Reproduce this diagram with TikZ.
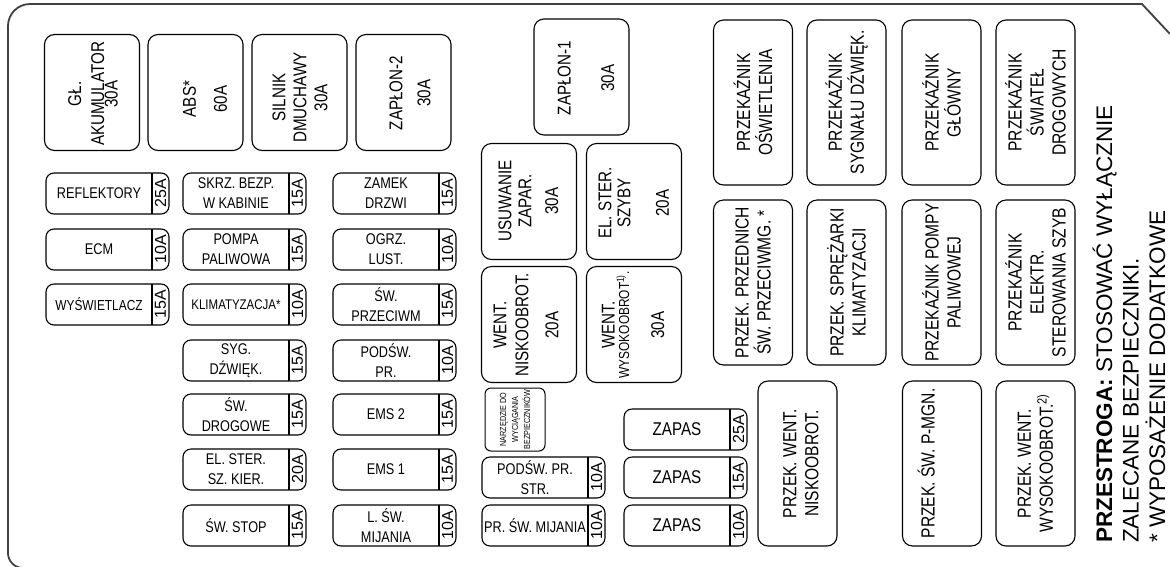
\documentclass[tikz,border=0pt]{standalone}
\usepackage{fontspec}
\setmainfont{Liberation Sans}
\newfontfamily\narrowfont{Liberation Sans}[FakeStretch=0.82]

\newcommand{\zapas}{{\fontsize{18.5}{22}\selectfont ZAPAS}}

\begin{document}
\begin{tikzpicture}[
  x=1pt, y=-1pt,
  border/.style={draw=black!75, line width=1.8pt},
  bigfuse/.style={draw, line width=1.1pt, rounded corners=10pt, minimum width=95pt, minimum height=116pt, outer sep=0pt, inner sep=0pt},
  bigtxt/.style={rotate=90, align=center, inner sep=0pt, font=\narrowfont\fontsize{18.5}{22}\selectfont},
  fuse/.style={draw, line width=1.1pt, rounded corners=8pt, minimum width=123pt, minimum height=41pt, outer sep=0pt, inner sep=0pt},
  fuselbl/.style={align=center, inner sep=0pt, font=\narrowfont\fontsize{15.5}{20}\selectfont},
  amplbl/.style={rotate=90, inner sep=0pt, font=\fontsize{16}{16}\selectfont},
  relay/.style={draw, line width=1.1pt, rounded corners=10pt, rotate=90, minimum width=165pt, minimum height=79pt, align=center, inner sep=0pt, font=\narrowfont\fontsize{19}{22}\selectfont},
  tool/.style={draw, line width=1pt, rounded corners=6pt, rotate=90, minimum width=63pt, minimum height=60pt, align=center, inner sep=0pt, font=\narrowfont\fontsize{8.8}{12}\selectfont},
  warn/.style={rotate=90, anchor=base west, inner sep=0pt, font=\fontsize{22.5}{27}\selectfont},
]
\useasboundingbox (0,0) rectangle (1170,566);

% obudowa
\draw[border] (1170,34) -- (1142,4) [rounded corners=22pt] -- (8,4) [rounded corners=15pt] -- (8,568) -- (1170,568);

% duze bezpieczniki
\node[bigfuse] (akum) at (92,92.5) {};
\node[bigtxt] (akum-t) at (93,94) {GŁ.\\[1pt]AKUMULATOR\\[-8.5pt]30A};
\node[bigfuse] (abs) at (195.5,92.5) {};
\node[bigtxt] (abs-t) at (205,99) {ABS*\\[9pt]60A};
\node[bigfuse] (silnik) at (299.5,92.5) {};
\node[bigtxt] (silnik-t) at (300,97.5) {SILNIK\\[-1pt]DMUCHAWY\\[-1pt]30A};
\node[bigfuse] (zap2) at (403.5,92.5) {};
\node[bigtxt] (zap2-t) at (410,93) {ZAPŁON-2\\[6pt]30A};
\node[bigfuse] (zap1) at (581.5,77) {};
\node[bigtxt] (zap1-t) at (586,78) {ZAPŁON-1\\[21.5pt]30A};
\node[bigfuse] (usuw) at (529,201.5) {};
\node[bigtxt] (usuw-t) at (528.3,201) {USUWANIE\\[-2pt]ZAPAR.\\[4.7pt]30A};
\node[bigfuse] (szyby) at (634,201.5) {};
\node[bigtxt] (szyby-t) at (633.7,203) {EL. STER.\\[-3pt]SZYBY\\[16.5pt]20A};
\node[bigfuse] (wentn) at (529,324.5) {};
\node[bigtxt] (wentn-t) at (526,325) {WENT.\\NISKOOBROT.\\[8pt]20A};
\node[bigfuse] (wentw) at (634,324.5) {};
\node[bigtxt] (wentw-t) at (633,325) {WENT.\\[-7.5pt]{\fontsize{14.5}{15}\selectfont WYSOKOOBROT\textsuperscript{1)}.}\\[13pt]30A};

% male bezpieczniki
\foreach \x/\y/\lbl/\amp [count=\i] in {
  107.5/193.5/REFLEKTORY/25A,
  107.5/249.5/ECM/10A,
  107.5/304.5/{\fontsize{14.5}{16}\selectfont WYŚWIETLACZ}/15A,
  244.5/193.5/SKRZ. BEZP.\\W KABINIE/15A,
  244.5/249.5/POMPA\\PALIWOWA/15A,
  244.5/304.5/{\fontsize{14}{16}\selectfont KLIMATYZACJA*}/10A,
  244.5/360.5/SYG.\\DŹWIĘK./15A,
  244.5/414.5/ŚW.\\DROGOWE/15A,
  244.5/469.5/EL. STER.\\SZ. KIER./20A,
  244.5/525.5/ŚW. STOP/15A,
  394.5/193.5/ZAMEK\\DRZWI/15A,
  394.5/249.5/OGRZ.\\LUST./10A,
  394.5/304.5/ŚW.\\PRZECIWM/15A,
  394.5/360.5/PODŚW.\\PR./10A,
  394.5/414.5/EMS 2/15A,
  394.5/469.5/EMS 1/15A,
  394.5/525.5/L. ŚW.\\MIJANIA/10A,
  543.5/477.5/PODŚW. PR.\\STR./10A,
  543.5/525.5/PR. ŚW. MIJANIA/10A,
  685.5/429.5/\zapas/25A,
  685.5/477.5/\zapas/15A,
  685.5/525.5/\zapas/10A} {
  \node[fuse] (f\i) at (\x,\y) {};
  \draw[line width=1.1pt] ([xshift=-17pt]f\i.north east) -- ([xshift=-17pt]f\i.south east);
  \node[fuselbl] (fl\i) at ([xshift=-8.5pt]f\i.center) {\lbl};
  \node[amplbl] (fa\i) at ([xshift=53pt]f\i.center) {\amp};
}

\node[tool] (narz) at (515,419.5) {NARZĘDZIE DO\\WYCIĄGANIA\\BEZPIECZNIKÓW};

% przekazniki
\foreach \x/\y/\lbl [count=\i] in {
  753/102.5/PRZEKAŹNIK\\OŚWIETLENIA,
  846.5/102.5/PRZEKAŹNIK\\SYGNAŁU DŹWIĘK.,
  941.5/102.5/PRZEKAŹNIK\\GŁÓWNY,
  1035.5/102.5/PRZEKAŹNIK\\ŚWIATEŁ\\DROGOWYCH,
  753/282.5/PRZEK. PRZEDNICH\\ŚW. PRZECIWMG. *,
  846.5/282.5/PRZEK. SPRĘŻARKI\\KLIMATYZACJI,
  941.5/282.5/PRZEKAŹNIK POMPY\\PALIWOWEJ,
  1035.5/282.5/PRZEKAŹNIK\\ELEKTR.\\STEROWANIA SZYB,
  797.5/463.5/\mbox{}\\[-2pt]PRZEK. WENT.\\NISKOOBROT.,
  942/463.5/PRZEK. ŚW. P-MGN.\\[10pt]\mbox{},
  1035.5/463.5/PRZEK. WENT.\\WYSOKOOBROT.\textsuperscript{2)}}
  \node[relay] (r\i) at (\x,\y) {\lbl};

% ostrzezenie
\node[warn] (warn1) at (1112,543) {\textbf{PRZESTROGA:} STOSOWAĆ WYŁĄCZNIE};
\node[warn] (warn2) at (1138.5,543) {ZALECANE BEZPIECZNIKI.};
\node[warn] (warn3) at (1165,543) {* WYPOSAŻENIE DODATKOWE};
\end{tikzpicture}
\end{document}
